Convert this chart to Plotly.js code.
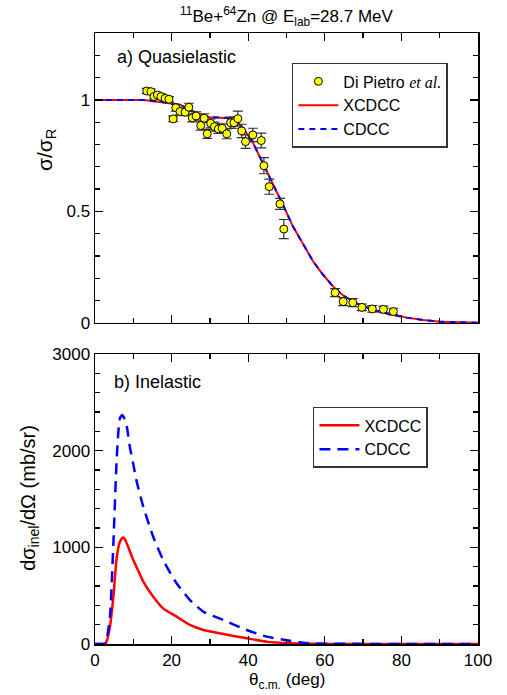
<!DOCTYPE html>
<html>
<head>
<meta charset="utf-8">
<script src="https://cdn.plot.ly/plotly-3.0.1.min.js"></script>
<style>html,body{margin:0;padding:0;background:#fff;}#chart{width:507px;height:695px;}</style>
</head>
<body>
<div id="chart"></div>
<script>
// Panel a) Quasielastic : experimental data (Di Pietro et al.)
const expTheta = [13.5,14.6,15.4,16.3,17.2,18.3,19.3,20.4,21.1,22.2,23.5,24.5,25.4,26.4,27.6,28.5,29.3,30.2,31.2,32.2,33.2,34.4,35.4,36.3,37.3,38.3,39.3,41.2,43.4,44.1,45.5,48.3,49.3,62.7,64.8,67.3,69.7,72.4,75.3,77.9];
const expSigma = [1.040,1.037,1.015,1.022,1.015,1.007,1.003,0.915,0.965,0.948,0.945,0.967,0.920,0.928,0.885,0.918,0.848,0.895,0.880,0.870,0.873,0.848,0.898,0.898,0.916,0.861,0.813,0.843,0.818,0.705,0.611,0.534,0.421,0.136,0.096,0.091,0.070,0.063,0.061,0.051];
const expErr   = [0.012,0.012,0.012,0.012,0.012,0.012,0.012,0.012,0.015,0.015,0.015,0.018,0.018,0.018,0.020,0.020,0.020,0.020,0.020,0.020,0.020,0.022,0.025,0.025,0.034,0.030,0.030,0.030,0.033,0.036,0.034,0.025,0.043,0.018,0.018,0.018,0.015,0.015,0.015,0.015];

// Panel a) theory curves
const qeTheta = [0,5,10,12.6,16.1,19.6,22.2,24.8,27.4,30.0,33.5,35.2,36.9,38.7,41.3,43.9,46.5,49.1,51.7,54.4,57.0,59.6,62.2,64.8,68.3,72.7,77.0,81.4,85.7,90.1,94.4,100];
const qeXCDCC = [1.0,1.0,1.0,1.0,0.993,0.985,0.978,0.955,0.933,0.922,0.921,0.918,0.903,0.873,0.806,0.716,0.619,0.529,0.432,0.350,0.275,0.215,0.163,0.123,0.088,0.058,0.039,0.024,0.013,0.006,0.003,0.001];
const qeCDCC  = [1.0,1.0,1.0,1.0,0.993,0.986,0.979,0.956,0.934,0.923,0.922,0.919,0.904,0.873,0.806,0.716,0.619,0.529,0.432,0.350,0.275,0.215,0.163,0.123,0.088,0.058,0.039,0.024,0.013,0.006,0.003,0.001];

// Panel b) Inelastic
const inTheta = [0,1.5,2.6,3.0,3.9,4.8,5.7,6.5,7.1,7.4,7.8,8.3,9.1,10.0,10.8,12.6,15.2,17.8,21.3,24.8,28.3,33.5,39.6,44.8,50.9,55.3,60,70,80,90,100];
const inXCDCC = [0,0,2,24,179,490,903,1058,1095,1103,1085,1041,960,869,800,645,490,369,283,197,145,103,59,24,8,3,1,0,0,0,0];
const inCDCC  = [0,0,4,41,283,1041,1938,2334,2369,2355,2317,2250,2041,1860,1697,1420,1110,869,628,455,334,248,145,76,34,10,3,1,0,0,0];

const FONT = "'Liberation Sans', Arial, Helvetica, sans-serif";
const RED = '#ff0000', BLUE = '#0000ff';

const traces = [
  {x: qeTheta, y: qeXCDCC, xaxis:'x', yaxis:'y', type:'scatter', mode:'lines', name:'XCDCC',
   line:{color:RED, width:2}, legend:'legend', legendrank:2},
  {x: qeTheta, y: qeCDCC, xaxis:'x', yaxis:'y', type:'scatter', mode:'lines', name:'CDCC',
   line:{color:BLUE, width:2, dash:'6px,5px'}, legend:'legend', legendrank:3},
  {x: expTheta, y: expSigma, xaxis:'x', yaxis:'y', type:'scatter', mode:'markers',
   name:'Di Pietro <span style="font-family:\'Liberation Serif\',Times,serif;font-style:italic">et al.</span>',
   marker:{color:'#ffff00', size:8, line:{color:'#000', width:1}},
   error_y:{type:'data', array:expErr, visible:true, color:'#333', thickness:1.2, width:5},
   legend:'legend', legendrank:1},
  {x: inTheta, y: inXCDCC, xaxis:'x2', yaxis:'y2', type:'scatter', mode:'lines', name:'XCDCC',
   line:{color:RED, width:2.5, shape:'spline', smoothing:0.6}, legend:'legend2'},
  {x: inTheta, y: inCDCC, xaxis:'x2', yaxis:'y2', type:'scatter', mode:'lines', name:'CDCC',
   line:{color:BLUE, width:2.5, dash:'11px,7px', shape:'spline', smoothing:0.6}, legend:'legend2'}
];

const axisCommon = {
  showgrid:false, zeroline:false, showline:true, linecolor:'#000', linewidth:1.5,
  mirror:'ticks', ticks:'inside', ticklen:8, tickwidth:1.3, tickcolor:'#000',
  tickfont:{family:FONT, size:17, color:'#000'}
};
const minorX = {dtick:10, ticklen:5, tickwidth:1.3, tickcolor:'#000', ticks:'inside'};

const layout = {
  width:507, height:695,
  margin:{l:95, r:29, t:33, b:51},
  paper_bgcolor:'#fff', plot_bgcolor:'#fff',
  showlegend:true,
  font:{family:FONT, color:'#000'},
  title:{text:'<sup>11</sup>Be+<sup>64</sup>Zn @ E<sub>lab</sub>=28.7 MeV',
         font:{family:FONT, size:17, color:'#000'}, x:0.565, xanchor:'center', y:0.977, yanchor:'middle', xref:'container', yref:'container'},
  xaxis: Object.assign({}, axisCommon, {anchor:'y', range:[0,100], dtick:20, showticklabels:false, minor:minorX}),
  yaxis: Object.assign({}, axisCommon, {anchor:'x', domain:[0.5254,1], range:[0,1.3], tickvals:[0,0.5,1], ticktext:['0','0.5','1'],
          minor:{dtick:0.1, ticklen:5, tickwidth:1.3, tickcolor:'#000', ticks:'inside'}}),
  xaxis2: Object.assign({}, axisCommon, {anchor:'y2', range:[0,100], dtick:20, minor:minorX}),
  yaxis2: Object.assign({}, axisCommon, {anchor:'x2', domain:[0,0.4746], range:[0,3000], dtick:1000,
          minor:{dtick:200, ticklen:5, tickwidth:1.3, tickcolor:'#000', ticks:'inside'}}),
  legend:{x:0.514, y:0.951, xanchor:'left', yanchor:'top', bgcolor:'#fff', bordercolor:'#333', borderwidth:1.5,
          font:{family:FONT, size:16, color:'#000'}, tracegroupgap:0, itemwidth:40, traceorder:'normal'},
  legend2:{x:0.569, y:0.388, xanchor:'left', yanchor:'top', bgcolor:'#fff', bordercolor:'#333', borderwidth:1.5,
          font:{family:FONT, size:16, color:'#000'}, itemwidth:40, traceorder:'normal'},
  annotations:[
    {text:'σ/σ<sub>R</sub>', xref:'paper', yref:'paper', x:-0.128, y:0.8085, xanchor:'center', yanchor:'middle',
     textangle:-90, showarrow:false, font:{family:FONT, size:21, color:'#000'}},
    {text:'dσ<sub>inel</sub>/dΩ (mb/sr)', xref:'paper', yref:'paper', x:-0.170, y:0.239, xanchor:'center', yanchor:'middle',
     textangle:-90, showarrow:false, font:{family:FONT, size:20, color:'#000'}},
    {text:'θ<sub>c.m.</sub> (deg)', xref:'paper', yref:'paper', x:0.5, y:-0.061, xanchor:'center', yanchor:'middle',
     showarrow:false, font:{family:FONT, size:17, color:'#000'}},
    {text:'a) Quasielastic', xref:'paper', yref:'paper', x:0.052, y:0.9607, xanchor:'left', yanchor:'middle',
     showarrow:false, font:{family:FONT, size:18, color:'#000'}},
    {text:'b) Inelastic', xref:'paper', yref:'paper', x:0.044, y:0.4288, xanchor:'left', yanchor:'middle',
     showarrow:false, font:{family:FONT, size:18, color:'#000'}}
  ]
};

Plotly.newPlot('chart', traces, layout, {staticPlot:true, displayModeBar:false});
</script>
</body>
</html>
